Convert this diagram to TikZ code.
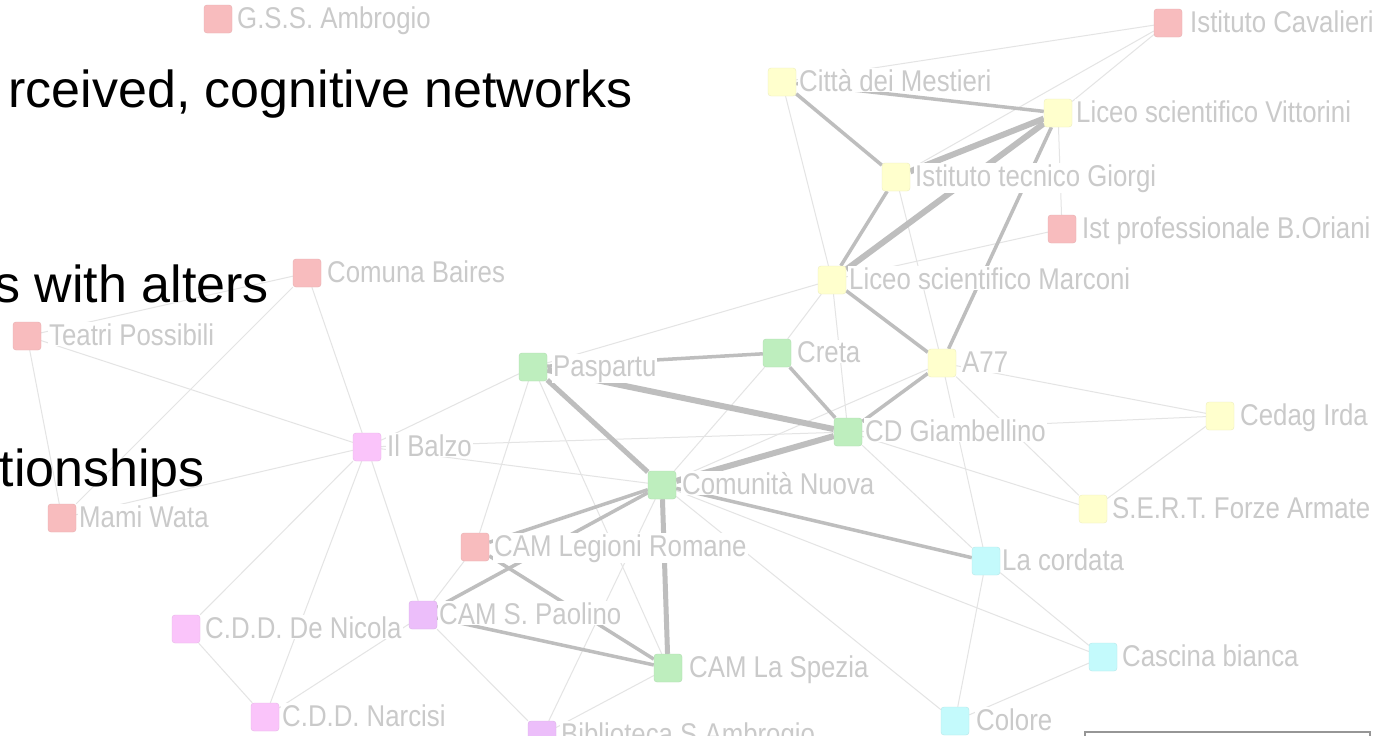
\documentclass[tikz,border=0pt]{standalone}
\usepackage{fontspec}
\setmainfont{Liberation Sans}
\usepackage{graphicx}
\pgfdeclarelayer{bg}
\pgfdeclarelayer{edges}
\pgfdeclarelayer{labels}
\pgfsetlayers{bg,edges,labels,main}
\definecolor{cred}{RGB}{248,188,190}
\definecolor{cyel}{RGB}{255,255,205}
\definecolor{cgrn}{RGB}{190,238,190}
\definecolor{cpnk}{RGB}{250,196,250}
\definecolor{cvio}{RGB}{236,190,250}
\definecolor{ccya}{RGB}{196,250,252}
\definecolor{lblgray}{RGB}{202,202,202}
\definecolor{thickgray}{RGB}{190,190,190}
\definecolor{thingray}{RGB}{228,228,228}
\definecolor{boxgray}{RGB}{150,150,150}
\tikzset{
  sq/.style={minimum size=28pt, inner sep=0pt, rounded corners=3pt, fill=#1, draw=#1!93!black},
  lbl/.style={anchor=base west, inner sep=1pt, fill=white, text=lblgray, font=\fontsize{30}{32}\selectfont},
  thinedge/.style={draw=thingray, line width=1pt},
  thickedge/.style={draw=thickgray, line width=3.5pt},
  midedge/.style={draw=thickgray, line width=5pt},
  heavyedge/.style={draw=thickgray, line width=6pt},
  slidetext/.style={anchor=base east, inner sep=0pt, text=black, font=\fontsize{52}{60}\selectfont}
}
\newcommand\netnode[6]{%
  \node[sq=#4] (#1) at (#2,#3) {};
  \begin{pgfonlayer}{labels}
    \node[lbl] (#1l) at (#5,#3+9) {\scalebox{0.86}[1]{#6}};
  \end{pgfonlayer}}
\begin{document}
\begin{tikzpicture}[x=1pt,y=-1pt]
\useasboundingbox (0,0) rectangle (1384,736);
\begin{pgfonlayer}{bg}
\fill[white] (0,0) rectangle (1384,736);
\end{pgfonlayer}
% nodes
\netnode{gss}{218}{19}{cred}{236}{G.S.S. Ambrogio}
\netnode{cav}{1168}{23}{cred}{1189}{Istituto Cavalieri}
\netnode{citta}{782}{82}{cyel}{798}{Città dei Mestieri}
\netnode{vit}{1058}{113}{cyel}{1075}{Liceo scientifico Vittorini}
\netnode{gio}{896}{177}{cyel}{914}{Istituto tecnico Giorgi}
\netnode{ori}{1062}{229}{cred}{1081}{Ist professionale B.Oriani}
\netnode{baires}{307}{273}{cred}{326}{Comuna Baires}
\netnode{mar}{832}{280}{cyel}{848}{Liceo scientifico Marconi}
\netnode{teatri}{27}{336}{cred}{48}{Teatri Possibili}
\netnode{pasp}{533}{367}{cgrn}{552}{Paspartu}
\netnode{creta}{777}{353}{cgrn}{796}{Creta}
\netnode{a77}{942}{363}{cyel}{961}{A77}
\netnode{balzo}{367}{447}{cpnk}{386}{Il Balzo}
\netnode{cd}{848}{432}{cgrn}{864}{CD Giambellino}
\netnode{cedag}{1220}{416}{cyel}{1239}{Cedag Irda}
\netnode{comu}{662}{485}{cgrn}{681}{Comunità Nuova}
\netnode{sert}{1093}{509}{cyel}{1111}{S.E.R.T. Forze Armate}
\netnode{mami}{62}{518}{cred}{78}{Mami Wata}
\netnode{leg}{475}{547}{cred}{493}{CAM Legioni Romane}
\netnode{cord}{986}{561}{ccya}{1001}{La cordata}
\netnode{pao}{423}{615}{cvio}{438}{CAM S. Paolino}
\netnode{nic}{186}{629}{cpnk}{204}{C.D.D. De Nicola}
\netnode{spe}{668}{668}{cgrn}{688}{CAM La Spezia}
\netnode{casc}{1103}{657}{ccya}{1121}{Cascina bianca}
\netnode{nar}{265}{717}{cpnk}{281}{C.D.D. Narcisi}
\netnode{bib}{542}{735}{cvio}{560}{Biblioteca S.Ambrogio}
\netnode{colore}{955}{721}{ccya}{975}{Colore}
% edges
\begin{pgfonlayer}{edges}
\foreach \a/\b in {cav/citta, cav/vit, cav/gio, citta/mar, vit/ori, gio/a77, ori/mar,
  mar/pasp, mar/creta, mar/cd, a77/comu, a77/cedag, a77/cord, a77/sert, cd/cedag,
  cedag/sert, cd/sert, cd/cord, cd/balzo, creta/comu, pasp/balzo, pasp/leg, pasp/spe,
  balzo/comu, balzo/baires, balzo/teatri, balzo/mami, balzo/nic, balzo/nar, balzo/pao,
  teatri/mami, baires/mami, baires/teatri, nic/nar, nar/pao, pao/leg, comu/casc,
  comu/colore, comu/bib, spe/bib, pao/bib, cord/colore, cord/casc, casc/colore}
  \draw[thinedge] (\a) -- (\b);
\foreach \a/\b in {citta/vit, citta/gio, gio/mar, mar/a77, a77/vit, a77/cd, creta/cd,
  pasp/creta, leg/comu, pao/comu, leg/spe, pao/spe, comu/cord}
  \draw[thickedge] (\a) -- (\b);
\draw[midedge] (comu) -- (spe);
\draw[midedge] (pasp) -- (comu);
\foreach \a/\b in {gio/vit, mar/vit, pasp/cd, cd/comu}
  \draw[heavyedge] (\a) -- (\b);
\end{pgfonlayer}
% legend box (cut at the bottom)
\draw[boxgray, line width=1.5pt] (1085,732) rectangle (1370,760);
% slide text
\node[slidetext] (t1) at (633,107) {rceived, cognitive networks};
\node[slidetext] (t2) at (269,302) {s with alters};
\node[slidetext] (t3) at (205,486) {tionships};
\end{tikzpicture}
\end{document}
